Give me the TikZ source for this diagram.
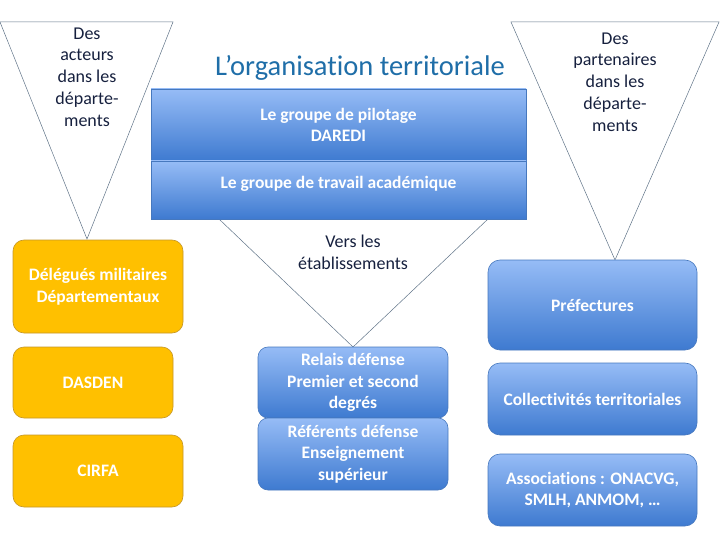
\documentclass[tikz,border=0pt]{standalone}
\usepackage{fontspec}
\setmainfont{Carlito}[Ligatures=NoCommon]
\usepackage{xcolor}
\usetikzlibrary{positioning}
\definecolor{orgtitle}{RGB}{31,110,168}
\definecolor{orgnavy}{RGB}{22,32,62}
\definecolor{orgline}{RGB}{95,115,135}
\definecolor{blutop}{RGB}{150,188,246}
\definecolor{blubot}{RGB}{62,122,208}
\definecolor{bluedge}{RGB}{70,120,190}
\definecolor{orfill}{RGB}{255,192,0}
\definecolor{oredge}{RGB}{196,150,40}

\begin{document}
\begin{tikzpicture}[
    x=1pt, y=-1pt,
    bluebox/.style={
        rectangle, rounded corners=#1, draw=bluedge, line width=0.6pt,
        top color=blutop, bottom color=blubot, text=white, align=center,
        font=\fontsize{17.5}{21.6}\selectfont\bfseries, inner sep=2pt
    },
    orbox/.style={
        rectangle, rounded corners=11pt, draw=oredge, line width=0.6pt,
        fill=orfill, text=white, align=center,
        font=\fontsize{17.5}{21.8}\selectfont\bfseries, inner sep=2pt
    },
    funnel/.style={draw=orgline, line width=0.5pt},
    ftext/.style={text=orgnavy, align=center, font=\fontsize{18}{21.8}\selectfont}
]
\useasboundingbox (0,0) rectangle (720,540);

% Funnels
\draw[funnel] (0,22) -- (173,22) -- (87,239) -- cycle;
\draw[funnel] (511,22) -- (719,22) -- (615,260) -- cycle;
\draw[funnel] (219,219) -- (488,219) -- (353,347) -- cycle;

% Funnel texts
\node[ftext] (acteurs) at (87,77) {Des\\acteurs\\dans les\\départe-\\ments};
\node[ftext] (partenaires) at (615,82) {Des\\partenaires\\dans les\\départe-\\ments};
\node[ftext] (vers) at (353,252) {Vers les\\établissements};

% Title
\node[font=\fontsize{28.5}{34}\selectfont, text=orgtitle] (title) at (360,68) {L’organisation territoriale};

% Academic groups
\node[bluebox=0pt, minimum width=375pt, minimum height=72pt] (pilotage) at (338.5,125) {Le groupe de pilotage\\DAREDI};
\node[bluebox=0pt, minimum width=375pt, minimum height=58pt, text depth=15pt] (travail) at (338.5,190) {Le groupe de travail académique};

% Departments (orange)
\node[orbox, minimum width=170pt, minimum height=93pt] (delegues) at (98,286.5) {Délégués militaires\\Départementaux};
\node[orbox, minimum width=160pt, minimum height=71pt] (dasden) at (93,382.5) {DASDEN};
\node[orbox, minimum width=170pt, minimum height=72pt] (cirfa) at (98,471) {CIRFA};

% Schools
\node[bluebox=10pt, minimum width=190pt, minimum height=71pt] (relais) at (353,382.5) {Relais défense\\Premier et second\\degrés};
\node[bluebox=10pt, minimum width=190pt, minimum height=72pt] (referents) at (353,454) {Référents défense\\Enseignement\\supérieur};

% Partners
\node[bluebox=12pt, minimum width=209pt, minimum height=90pt] (prefectures) at (592.5,305) {Préfectures};
\node[bluebox=12pt, minimum width=209pt, minimum height=72pt] (collectivites) at (592.5,399) {Collectivités territoriales};
\node[bluebox=12pt, minimum width=209pt, minimum height=72pt] (associations) at (592.5,490) {Associations : ONACVG,\\SMLH, ANMOM, …};

\end{tikzpicture}
\end{document}
